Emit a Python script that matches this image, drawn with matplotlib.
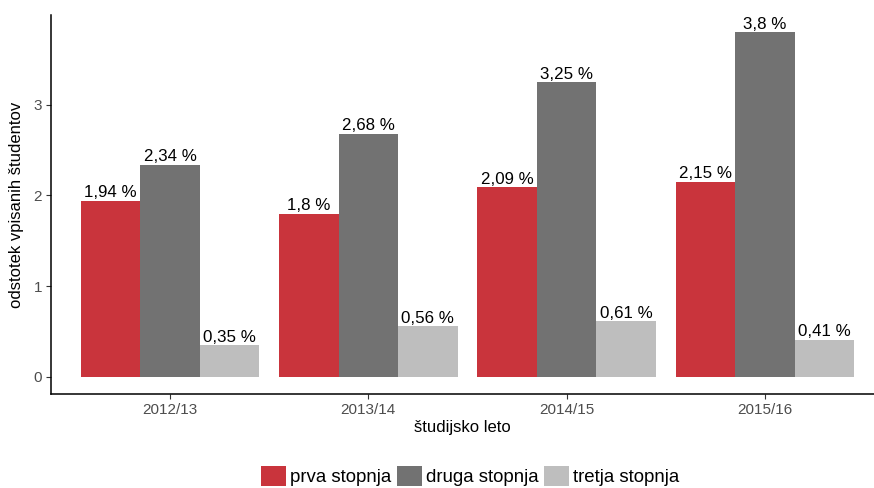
import matplotlib
matplotlib.use('Agg')
import matplotlib.pyplot as plt
from matplotlib.patches import Patch
import numpy as np

plt.rcParams['font.family'] = ['Liberation Sans', 'DejaVu Sans']

# podatki
leta = ['2012/13', '2013/14', '2014/15', '2015/16']
prva = [1.94, 1.8, 2.09, 2.15]
druga = [2.34, 2.68, 3.25, 3.8]
tretja = [0.35, 0.56, 0.61, 0.41]
serije = ['prva stopnja', 'druga stopnja', 'tretja stopnja']
barve = ['#C9343C', '#727272', '#BEBEBE']

fig = plt.figure(figsize=(8.74, 4.88), dpi=100)
ax = fig.add_axes([51 / 874, 94 / 488, 823 / 874, 379 / 488])

x = np.arange(1, len(leta) + 1)
w = 0.3
for i, (vals, name, col) in enumerate(zip([prva, druga, tretja], serije, barve)):
    pos = x + (i - 1) * w
    ax.bar(pos, vals, width=w, color=col, label=name)
    for p, v in zip(pos, vals):
        lab = f'{v:g}'.replace('.', ',') + ' %'
        ax.text(p, v + 0.005, lab, ha='center', va='bottom', fontsize=12.2, color='black')

ax.set_xlim(0.4, 1 + (874 - 170) / 198.3)
ax.set_ylim(-0.19, 3.99)
ax.set_xticks(x)
ax.set_xticklabels(leta)
ax.set_yticks([0, 1, 2, 3])
ax.tick_params(axis='both', labelcolor='#4D4D4D', labelsize=11, length=3.5, width=0.8,
               color='#333333', pad=3)

for s in ['top', 'right']:
    ax.spines[s].set_visible(False)
for s in ['left', 'bottom']:
    ax.spines[s].set_linewidth(1.1)
    ax.spines[s].set_color('black')

ax.set_xlabel('študijsko leto', fontsize=12, labelpad=2)
ax.set_ylabel('odstotek vpisanih študentov', fontsize=12, labelpad=7)

handles = [Patch(facecolor=c, edgecolor='none') for c in barve]
fig.legend(handles, serije, loc='center', bbox_to_anchor=(470 / 874, 1 - 476 / 488),
           ncol=3, frameon=False, fontsize=13.4, handlelength=1.34, handleheight=1.3,
           handletextpad=0.22, columnspacing=0.3, borderpad=0)

fig.savefig('out.png', dpi=100)
